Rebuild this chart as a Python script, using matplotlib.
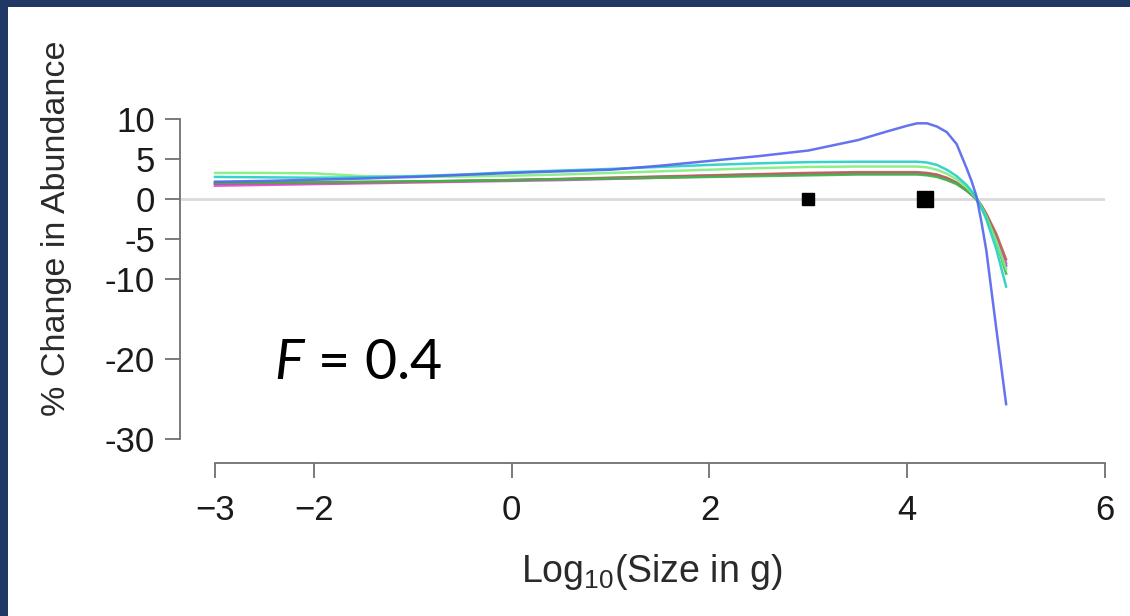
import matplotlib
matplotlib.use("Agg")
import matplotlib.pyplot as plt
from matplotlib.patches import Rectangle

plt.rcParams["font.family"] = ["Liberation Sans", "DejaVu Sans"]
plt.rcParams["mathtext.fontset"] = "custom"
plt.rcParams["mathtext.it"] = "Lato:italic"
plt.rcParams["mathtext.rm"] = "Lato"

# log10 body size (g) at which each run was sampled
LOG_SIZE = [-3, -2.5, -2, -1.5, -1, -0.5, 0, 0.5, 1, 1.5, 2, 2.5, 3, 3.5, 3.8,
            4.0, 4.1, 4.2, 4.3, 4.4, 4.5, 4.6, 4.65, 4.7, 4.75, 4.8, 4.9, 5.0]

# % change in abundance per size class, one list per run
PCT_PURPLE = [1.8, 1.85, 1.9, 2.0, 2.1, 2.2, 2.3, 2.4, 2.55, 2.7, 2.85, 3.0, 3.1,
              3.2, 3.2, 3.2, 3.2, 3.1, 2.9, 2.5, 1.9, 1.0, 0.5, -0.1, -1.0, -2.1, -4.9, -8.4]
PCT_MAGENTA = [1.6, 1.7, 1.8, 1.9, 2.0, 2.1, 2.2, 2.3, 2.45, 2.6, 2.75, 2.9, 3.0,
               3.1, 3.1, 3.1, 3.1, 3.0, 2.8, 2.4, 1.9, 1.0, 0.5, -0.1, -0.95, -2.0, -4.7, -8.1]
PCT_RED = [1.9, 1.95, 2.0, 2.05, 2.1, 2.2, 2.3, 2.45, 2.6, 2.75, 2.9, 3.05, 3.2,
           3.3, 3.3, 3.3, 3.3, 3.2, 3.0, 2.6, 2.0, 1.1, 0.6, 0.0, -0.85, -1.9, -4.4, -7.6]
PCT_GREEN = [2.0, 2.0, 2.05, 2.1, 2.15, 2.2, 2.3, 2.4, 2.5, 2.6, 2.7, 2.8, 2.9,
             3.0, 3.0, 3.0, 3.0, 2.9, 2.7, 2.3, 1.8, 1.0, 0.5, -0.1, -1.0, -2.2, -5.3, -9.4]
PCT_LIGHTGREEN = [3.2, 3.2, 3.15, 2.8, 2.7, 2.75, 2.85, 3.0, 3.2, 3.4, 3.6, 3.8, 3.95,
                  4.0, 4.0, 4.0, 4.0, 3.9, 3.6, 3.1, 2.4, 1.4, 0.75, 0.0, -1.05, -2.3, -5.3, -8.8]
PCT_CYAN = [2.7, 2.65, 2.6, 2.65, 2.8, 3.0, 3.3, 3.5, 3.7, 3.95, 4.2, 4.4, 4.55,
            4.6, 4.6, 4.6, 4.6, 4.5, 4.2, 3.6, 2.8, 1.7, 0.95, 0.1, -1.2, -2.6, -6.3, -11.0]
PCT_BLUE = [2.1, 2.2, 2.35, 2.5, 2.7, 2.95, 3.2, 3.4, 3.6, 4.1, 4.7, 5.3, 6.0,
            7.3, 8.4, 9.1, 9.4, 9.4, 9.0, 8.3, 6.8, 3.8, 2.2, 0.3, -2.9, -6.5, -16.2, -25.7]

RUNS = [
    (PCT_PURPLE, "#7040d0"),
    (PCT_MAGENTA, "#d650cf"),
    (PCT_RED, "#c0605a"),
    (PCT_GREEN, "#3cb845"),
    (PCT_LIGHTGREEN, "#80ee80"),
    (PCT_CYAN, "#22cfc4"),
    (PCT_BLUE, "#5464ee"),
]

# observed size classes on the zero line
OBS_X = [3.0, 4.18]
OBS_SIZE = [8.5, 11.5]

Y_TICKS = [10, 5, 0, -5, -10, -20, -30]
X_TICKS = [-3, -2, 0, 2, 4, 6]

NAVY = "#1f3864"
AXIS_GREY = "#707070"
TEXT = "#1a1a1a"

W, H = 1130, 616
fig = plt.figure(figsize=(W / 100, H / 100), dpi=100)
fig.patch.set_facecolor("white")
fig.patches.append(Rectangle((0, 1 - 7 / H), 1, 7 / H, transform=fig.transFigure,
                             facecolor=NAVY, edgecolor="none"))
fig.patches.append(Rectangle((0, 0), 8 / W, 1, transform=fig.transFigure,
                             facecolor=NAVY, edgecolor="none"))

ax = fig.add_axes([180 / W, 153 / H, 925 / W, 352 / H])
ax.set_xlim(-3.354, 6.0)
ax.set_ylim(-33.06, 10.94)

ax.axhline(0, color="#dadada", lw=2.0, zorder=1)
for vals, col in RUNS:
    ax.plot(LOG_SIZE, vals, color=col, lw=1.8, alpha=0.9, zorder=2,
            solid_joinstyle="round")
for xo, ms in zip(OBS_X, OBS_SIZE):
    ax.plot([xo], [0], marker="s", ms=ms, color="black", ls="none", zorder=4)

for side in ("top", "right"):
    ax.spines[side].set_visible(False)
ax.spines["left"].set_bounds(-30, 10)
ax.spines["bottom"].set_bounds(-3, 6)
for side in ("left", "bottom"):
    ax.spines[side].set_color(AXIS_GREY)
    ax.spines[side].set_linewidth(1.3)

ax.set_yticks(Y_TICKS)
ax.set_yticklabels([str(v) for v in Y_TICKS])
ax.set_xticks(X_TICKS)
ax.set_xticklabels([str(v).replace("-", "\u2212") for v in X_TICKS])
ax.tick_params(axis="both", length=11, width=1.3, color=AXIS_GREY,
               labelcolor=TEXT, labelsize=25)
ax.tick_params(axis="y", pad=7)
ax.tick_params(axis="x", pad=11)

fig.text(57 / W, 1 - 228 / H, "% Change in Abundance", rotation=90,
         ha="center", va="center", fontsize=24.5, color="#2a2a2a")
fig.text(652 / W, 1 - 572 / H, r"Log$_{\mathregular{10}}$(Size in g)",
         ha="center", va="center", fontsize=27, color="#2a2a2a")

ax.text(-2.4, -22.5, r"$F$ = 0.4", fontfamily="Lato", fontsize=40,
        color="black", ha="left", va="baseline")

fig.savefig("out.png", dpi=100)
